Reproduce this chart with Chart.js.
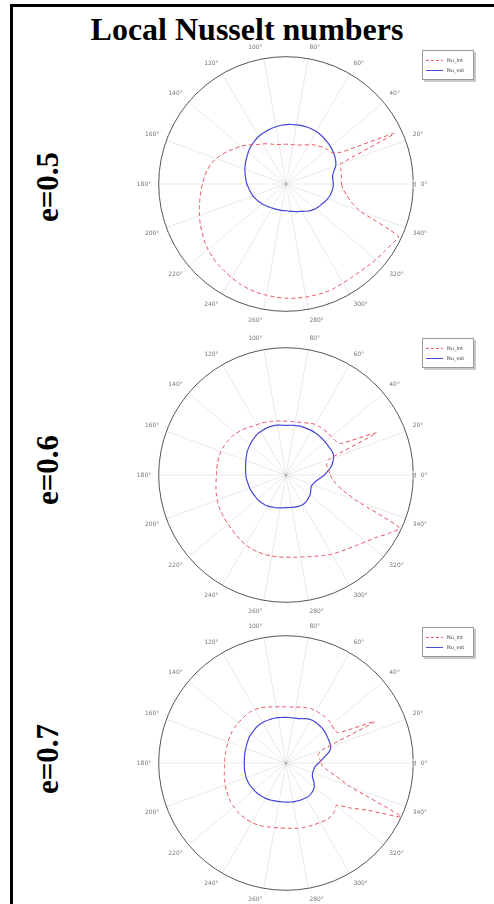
<!DOCTYPE html>
<html>
<head>
<meta charset="utf-8">
<script src="https://cdn.jsdelivr.net/npm/chart.js@4.4.1/dist/chart.umd.min.js"></script>
<style>
  html, body { margin: 0; padding: 0; background: #fff; }
  body { width: 494px; height: 904px; position: relative; overflow: hidden; font-family: "Liberation Serif", "Times New Roman", serif; }
  .frame { position: absolute; left: 10px; top: 4px; width: 700px; height: 1000px; border-left: 3px solid #000; border-top: 3px solid #000; }
  h1 { position: absolute; left: 0; top: 13px; width: 494px; margin: 0; text-align: center; font-size: 32px; line-height: 32px; font-weight: bold; }
  .elabel { position: absolute; left: 47px; font-size: 31px; line-height: 31px; font-weight: bold; white-space: nowrap; transform: translate(-50%, -50%) rotate(-90deg); }
  canvas { position: absolute; left: 116px; }
  .legend { position: absolute; left: 422px; width: 50px; height: 28px; border: 1px solid #999; box-shadow: 2px 2px 0 #c8c8c8; background: #fff; font-family: "DejaVu Sans", sans-serif; font-size: 5px; color: #444; }
  .legend .row { position: absolute; left: 3px; height: 8px; line-height: 8px; white-space: nowrap; }
  .legend .ln { position: absolute; left: 0; top: 4px; width: 17px; height: 1px; }
  .legend .txt { position: absolute; left: 21px; top: 0; }
  .legend .dash { background: repeating-linear-gradient(90deg, #e8606a 0 3px, transparent 3px 5px); }
  .legend .solid { background: #4b4bd8; }
</style>
</head>
<body>
<div class="frame"></div>
<h1>Local Nusselt numbers</h1>

<div class="elabel" style="top:187px">e=0.5</div>
<div class="elabel" style="top:470px">e=0.6</div>
<div class="elabel" style="top:759px">e=0.7</div>

<canvas id="c1" width="340" height="284" style="top:42px"></canvas>
<canvas id="c2" width="340" height="284" style="top:333px"></canvas>
<canvas id="c3" width="340" height="284" style="top:621px"></canvas>

<div class="legend" style="top:50px"><div class="row" style="top:5px"><span class="ln dash"></span><span class="txt">Nu_int</span></div><div class="row" style="top:15px"><span class="ln solid"></span><span class="txt">Nu_ext</span></div></div>
<div class="legend" style="top:338px"><div class="row" style="top:5px"><span class="ln dash"></span><span class="txt">Nu_int</span></div><div class="row" style="top:15px"><span class="ln solid"></span><span class="txt">Nu_ext</span></div></div>
<div class="legend" style="top:627px"><div class="row" style="top:5px"><span class="ln dash"></span><span class="txt">Nu_int</span></div><div class="row" style="top:15px"><span class="ln solid"></span><span class="txt">Nu_ext</span></div></div>

<script>
// angle in degrees, counter-clockwise from the right
const angles = [0, 5, 10, 15, 20, 25, 30, 35, 40, 45, 50, 55, 60, 65, 70, 75, 80, 85, 90, 95,
  100, 105, 110, 115, 120, 125, 130, 135, 140, 145, 150, 155, 160, 165, 170, 175, 180, 185, 190, 195,
  200, 205, 210, 215, 220, 225, 230, 235, 240, 245, 250, 255, 260, 265, 270, 275, 280, 285, 290, 295,
  300, 305, 310, 315, 320, 325, 330, 335, 340, 345, 350, 355]

const rMax = 39

// e = 0.5
const nuInt05 = [17.0, 17.0, 17.2, 17.4, 17.6, 36.7, 19.5, 16.8, 16.5, 16.0, 15.2, 14.7, 13.9, 13.2, 12.7, 12.4, 12.2, 12.2, 12.2, 12.2,
  12.3, 12.5, 13.0, 13.6, 14.2, 14.8, 15.8, 16.8, 18.0, 19.0, 20.3, 21.5, 22.8, 23.8, 24.5, 25.1, 25.6, 26.2, 26.8, 27.5,
  28.2, 29.0, 29.7, 30.5, 31.2, 31.8, 32.3, 32.7, 33.2, 33.7, 34.1, 34.4, 34.6, 34.8, 35.0, 35.1, 35.2, 35.2, 35.3, 35.2,
  35.0, 35.0, 35.1, 35.5, 36.0, 36.5, 37.2, 38.0, 24.0, 20.5, 18.8, 17.5]
const nuExt05 = [14.5, 14.4, 14.5, 15.2, 16.2, 16.8, 17.2, 17.5, 17.8, 18.0, 18.2, 18.4, 18.6, 18.6, 18.6, 18.5, 18.4, 18.3, 18.2, 18.0,
  17.8, 17.6, 17.3, 17.1, 16.8, 16.4, 16.0, 15.6, 15.1, 14.6, 14.2, 13.8, 13.4, 13.0, 12.6, 12.3, 12.0, 11.6, 11.3, 11.0,
  10.8, 10.4, 10.1, 9.8, 9.5, 9.2, 8.9, 8.7, 8.5, 8.4, 8.3, 8.2, 8.2, 8.2, 8.2, 8.3, 8.5, 8.7, 9.0, 9.3,
  9.7, 10.2, 10.8, 11.3, 11.8, 12.2, 12.5, 13.0, 13.5, 13.9, 14.2, 14.4]

// e = 0.6
const nuInt06 = [13.5, 13.2, 13.0, 12.8, 13.8, 30.6, 19.2, 18.4, 18.2, 18.2, 18.1, 18.0, 17.9, 17.5, 17.0, 16.7, 16.5, 16.5, 16.5, 16.6,
  16.8, 17.0, 17.3, 17.6, 17.8, 18.2, 18.8, 19.4, 19.9, 20.4, 20.7, 21.0, 21.2, 21.3, 21.3, 21.3, 21.3, 21.5, 21.8, 22.1,
  22.4, 22.7, 22.9, 23.1, 23.3, 23.5, 23.9, 24.3, 24.7, 25.0, 25.1, 25.2, 25.2, 25.2, 25.2, 25.3, 25.5, 25.9, 26.5, 27.2,
  28.0, 28.7, 29.5, 30.5, 31.8, 33.5, 36.0, 38.4, 23.0, 18.0, 15.5, 14.3]
const nuExt06 = [11.8, 12.8, 14.0, 14.8, 15.5, 15.9, 15.8, 15.7, 15.7, 15.7, 15.7, 15.7, 15.7, 15.6, 15.6, 15.6, 15.4, 15.3, 15.2, 15.3,
  15.5, 15.6, 15.6, 15.5, 15.4, 15.3, 15.0, 14.7, 14.4, 14.1, 13.8, 13.4, 13.1, 12.8, 12.6, 12.4, 12.3, 12.2, 12.0, 11.9,
  11.8, 11.7, 11.6, 11.5, 11.5, 11.4, 11.3, 11.2, 11.0, 10.8, 10.6, 10.4, 10.2, 10.1, 10.0, 10.0, 10.1, 10.2, 10.3, 10.4,
  10.4, 10.3, 10.1, 9.8, 9.6, 9.2, 8.8, 8.5, 8.6, 9.0, 9.6, 10.6]

// e = 0.7
const nuInt07 = [10.8, 10.5, 10.2, 10.2, 11.8, 30.1, 18.5, 18.0, 18.3, 18.5, 18.5, 18.4, 18.4, 18.3, 18.0, 17.7, 17.4, 17.2, 17.2, 17.3,
  17.5, 17.8, 18.2, 18.6, 18.9, 19.1, 19.1, 19.1, 19.1, 19.1, 19.1, 19.0, 18.9, 18.8, 18.8, 18.8, 18.8, 18.9, 19.2, 19.5,
  19.8, 20.1, 20.4, 20.7, 20.9, 21.1, 21.1, 21.1, 21.0, 20.9, 20.6, 20.3, 20.1, 20.0, 20.0, 20.1, 20.3, 20.5, 20.6, 20.8,
  21.0, 21.3, 21.4, 21.0, 20.2, 24.0, 29.0, 38.9, 20.5, 16.0, 13.0, 11.2]
const nuExt07 = [10.0, 11.0, 12.2, 13.8, 14.6, 14.8, 14.9, 15.1, 15.3, 15.4, 15.4, 15.4, 15.3, 15.0, 14.5, 14.1, 14.0, 14.0, 14.0, 14.0,
  14.1, 14.2, 14.2, 14.3, 14.3, 14.3, 14.2, 14.0, 13.9, 13.8, 13.5, 13.3, 13.1, 13.0, 12.9, 12.8, 12.8, 12.8, 12.9, 12.9,
  13.0, 13.0, 13.0, 12.9, 12.8, 12.8, 12.7, 12.6, 12.5, 12.4, 12.2, 12.1, 12.0, 12.0, 12.0, 12.0, 12.1, 12.1, 12.2, 12.2,
  12.3, 12.3, 12.1, 11.8, 11.3, 10.5, 9.5, 8.9, 8.7, 8.7, 8.8, 9.2]

// radar goes clockwise, the plots go counter-clockwise
function clockwise(arr) {
  return arr.map((_, i) => arr[(arr.length - i) % arr.length])
}

function polarPlot(id, nuInt, nuExt) {
  return new Chart(document.getElementById(id), {
    type: 'radar',
    data: {
      labels: clockwise(angles),
      datasets: [
        { label: 'Nu_int', data: clockwise(nuInt), borderColor: '#e8505c', borderDash: [4, 3], borderWidth: 1, pointRadius: 0, fill: false, tension: 0.2 },
        { label: 'Nu_ext', data: clockwise(nuExt), borderColor: '#4646d6', borderWidth: 1.2, pointRadius: 0, fill: false, tension: 0.2 }
      ]
    },
    options: {
      responsive: false,
      animation: false,
      layout: { padding: 0 },
      plugins: { legend: { display: false }, tooltip: { enabled: false } },
      scales: {
        r: {
          min: 0,
          max: rMax,
          startAngle: 90,
          ticks: { stepSize: rMax, color: '#666', font: { size: 5 }, backdropPadding: 1 },
          grid: { circular: true, color: '#555', lineWidth: 1 },
          angleLines: { color: 'rgba(0,0,0,0.09)', lineWidth: ctx => (ctx.label ? 1 : 0) },
          pointLabels: {
            color: '#777',
            padding: 4,
            font: { size: 6, family: 'DejaVu Sans' },
            callback: a => (a % 20 === 0 ? a + '°' : '')
          }
        }
      }
    }
  })
}

polarPlot('c1', nuInt05, nuExt05)
polarPlot('c2', nuInt06, nuExt06)
polarPlot('c3', nuInt07, nuExt07)
</script>
</body>
</html>
